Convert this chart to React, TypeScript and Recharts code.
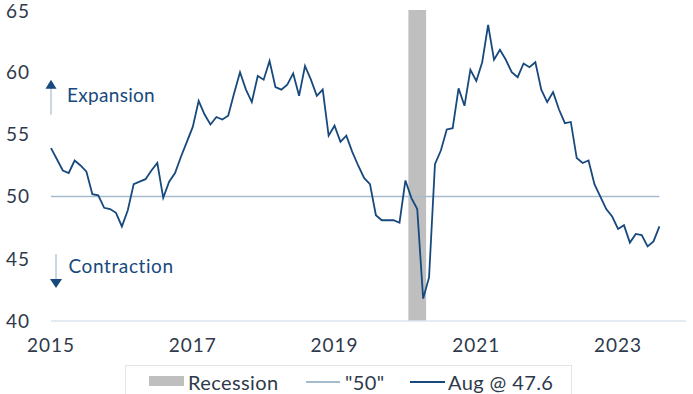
import { Line, LineChart, ReferenceArea, ReferenceDot, XAxis, YAxis } from 'recharts';

// ISM manufacturing PMI, monthly, Jan 2015 – Aug 2023
const pmi2015 = [53.9, 53.0, 52.1, 51.9, 52.9, 52.5, 52.0, 50.2, 50.1, 49.1, 49.0, 48.7];
const pmi2016 = [47.6, 48.9, 51.0, 51.2, 51.4, 52.1, 52.7, 49.9, 51.2, 51.9, 53.2, 54.4];
const pmi2017 = [55.6, 57.7, 56.6, 55.8, 56.4, 56.2, 56.5, 58.3, 60.0, 58.6, 57.6, 59.7];
const pmi2018 = [59.4, 60.9, 58.8, 58.6, 59.0, 59.9, 58.1, 60.5, 59.4, 58.1, 58.6, 54.9];
const pmi2019 = [55.7, 54.4, 54.9, 53.6, 52.5, 51.5, 51.0, 48.5, 48.1, 48.1, 48.1, 47.9];
const pmi2020 = [51.3, 49.9, 49.0, 41.8, 43.5, 52.6, 53.7, 55.4, 55.5, 58.7, 57.3, 60.2];
const pmi2021 = [59.3, 60.8, 63.8, 61.0, 61.8, 61.0, 60.0, 59.6, 60.7, 60.4, 60.8, 58.6];
const pmi2022 = [57.6, 58.4, 57.0, 55.9, 56.0, 53.1, 52.7, 52.9, 51.0, 50.0, 49.0, 48.4];
const pmi2023 = [47.4, 47.7, 46.3, 47.0, 46.9, 46.0, 46.4, 47.6];

const startYear = 2015;
const yearTicks = [2015, 2017, 2019, 2021, 2023];
const yTicks = [40, 45, 50, 55, 60, 65];
const threshold = 50;
// recession months (Feb–Apr 2020) as month offsets from Jan 2015
const recession = [61, 63];

const pmi = [...pmi2015, ...pmi2016, ...pmi2017, ...pmi2018, ...pmi2019, ...pmi2020, ...pmi2021, ...pmi2022, ...pmi2023];
const data = pmi.map((v, i) => ({ m: i, pmi: v, fifty: threshold }));

const NAVY = '#17497d';
const LIGHT = '#a7bbcf';
const TEXT = '#2e3a4b';
const FONT = 'Lato, sans-serif';

const ExpansionMark = ({ cx, cy }: any) => (
  <g>
    <line x1={cx} y1={cy + 8} x2={cx} y2={cy + 35} stroke={LIGHT} strokeWidth={1.2} />
    <path d={`M${cx - 5.5},${cy + 9} L${cx + 5.5},${cy + 9} L${cx},${cy} Z`} fill={NAVY} />
    <text x={cx + 16} y={cy + 22} fill={NAVY} fontSize={19} letterSpacing={0.3} fontFamily={FONT}>Expansion</text>
  </g>
);

const ContractionMark = ({ cx, cy }: any) => (
  <g>
    <line x1={cx} y1={cy - 34} x2={cx} y2={cy - 8} stroke={LIGHT} strokeWidth={1.2} />
    <path d={`M${cx - 6},${cy - 9} L${cx + 6},${cy - 9} L${cx},${cy} Z`} fill={NAVY} />
    <text x={cx + 12.5} y={cy - 15} fill={NAVY} fontSize={19} letterSpacing={0.6} fontFamily={FONT}>Contraction</text>
  </g>
);

const swatch = (left: number, top: number, w: number, h: number, bg: string) => (
  <span style={{ position: 'absolute', left, top, width: w, height: h, background: bg }} />
);
const label = (left: number, text: string) => (
  <span style={{ position: 'absolute', left, top: 4, whiteSpace: 'nowrap' }}>{text}</span>
);

const LegendBox = () => (
  <div
    style={{
      position: 'absolute',
      left: 125,
      top: 365,
      width: 447,
      height: 40,
      border: '1px solid #e4e4e4',
      boxSizing: 'border-box',
      fontFamily: FONT,
      fontSize: 20,
      letterSpacing: 0.4,
      color: TEXT,
    }}
  >
    {swatch(23, 10, 35, 10, '#bfbfbf')}
    {label(62, 'Recession')}
    {swatch(180, 15, 34, 1.5, LIGHT)}
    {label(219, '"50"')}
    {swatch(284, 15, 35, 1.5, NAVY)}
    {label(322, 'Aug @ 47.6')}
  </div>
);

export default function App() {
  return (
    <div style={{ position: 'absolute', left: 0, top: 0, width: 693, height: 394, overflow: 'hidden', background: '#fff' }}>
      <LineChart width={693} height={394} data={data} margin={{ top: 10, right: 7, left: 0, bottom: 43 }}>
        <XAxis
          dataKey="m"
          type="number"
          domain={[0, 107.5]}
          ticks={yearTicks.map((y) => (y - startYear) * 12)}
          tickFormatter={(v) => String(startYear + v / 12)}
          axisLine={{ stroke: '#dde5ee', strokeWidth: 1.5 }}
          tickLine={false}
          tickMargin={12}
          height={30}
          tick={{ fill: TEXT, fontSize: 19, fontFamily: FONT, letterSpacing: 1 }}
        />
        <YAxis
          domain={[40, 65]}
          ticks={yTicks}
          width={51}
          axisLine={false}
          tickLine={false}
          tickMargin={15}
          tick={{ fill: TEXT, fontSize: 19, fontFamily: FONT, letterSpacing: 1 }}
        />
        <ReferenceArea x1={recession[0] - 0.5} x2={recession[1] + 0.5} y1={40} y2={65} fill="#bfbfbf" fillOpacity={1} stroke="none" />
        <Line dataKey="fifty" stroke={LIGHT} strokeWidth={1.5} dot={false} isAnimationActive={false} />
        <Line dataKey="pmi" stroke={NAVY} strokeWidth={1.8} dot={false} isAnimationActive={false} />
        <ReferenceDot x={0} y={59.4} r={0} shape={ExpansionMark} />
        <ReferenceDot x={0.85} y={42.65} r={0} shape={ContractionMark} />
      </LineChart>
      <LegendBox />
    </div>
  );
}
